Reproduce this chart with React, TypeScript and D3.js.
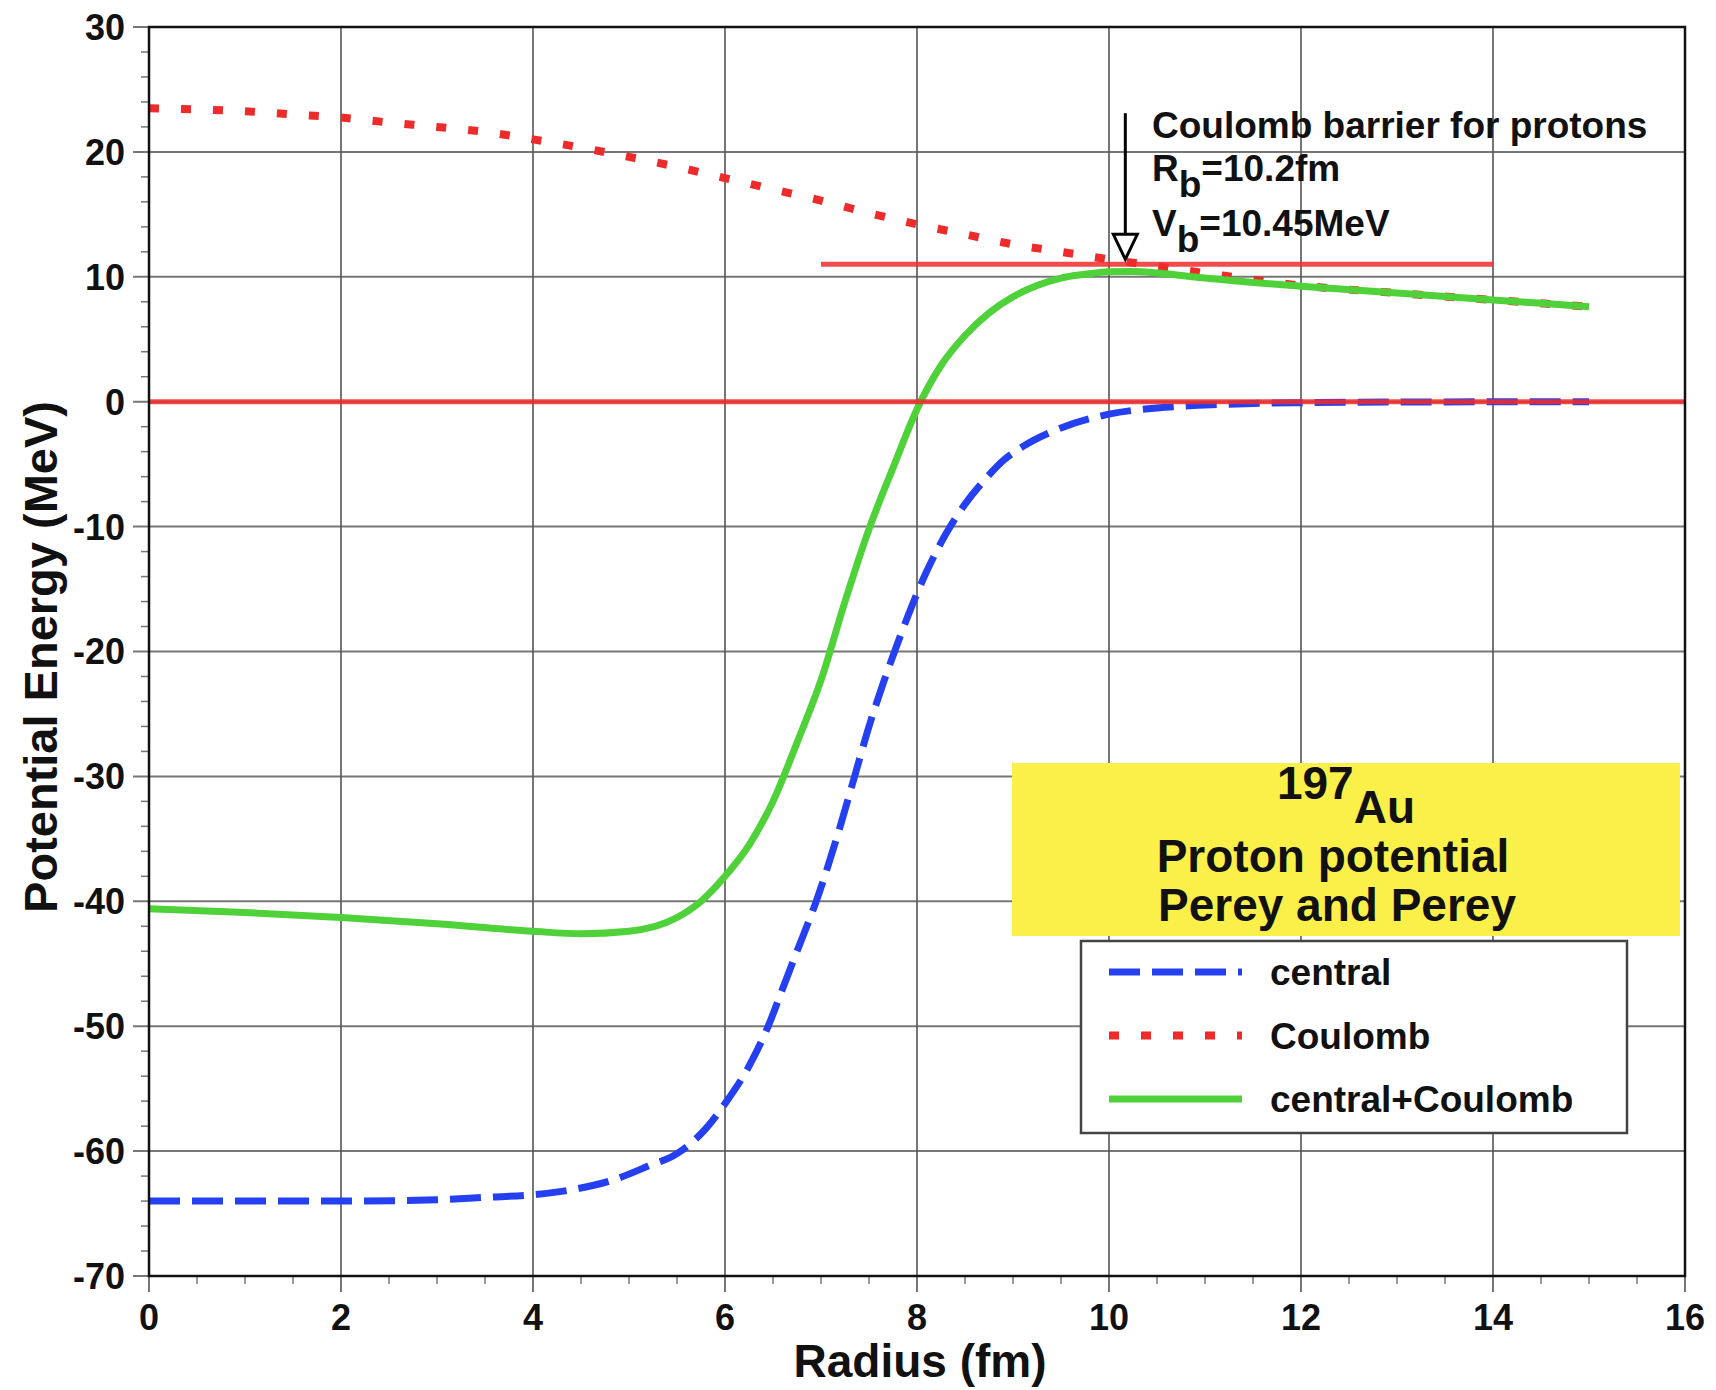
import React, { useEffect } from 'react'
import * as d3 from 'd3'

// radius (fm) / potential (MeV)
const centralR = [0, 1, 2, 3, 3.5, 4, 4.4, 4.8, 5.2, 5.5, 5.8, 6.0, 6.25, 6.45, 6.6, 6.75, 6.95, 7.2, 7.35, 7.5, 7.65, 7.8, 7.95, 8.1, 8.3, 8.5, 8.7, 8.9, 9.1, 9.5, 10, 10.5, 11, 11.5, 12, 13, 14, 15]
const centralV = [-64, -64, -64, -63.9, -63.7, -63.5, -63.1, -62.4, -61.2, -60.2, -58.2, -56.2, -53.2, -50, -47, -44, -40, -34, -30, -26, -22.5, -19.3, -16.3, -13.6, -10.6, -8.2, -6.3, -4.7, -3.6, -2.1, -1.0, -0.5, -0.27, -0.14, -0.08, -0.03, -0.01, 0]

const coulombR = [0, 0.5, 1, 1.5, 2, 2.5, 3, 3.5, 4, 4.5, 5, 5.5, 6, 6.5, 7, 7.5, 8, 8.5, 9, 9.5, 10, 10.5, 11, 12, 13, 14, 15]
const coulombV = [23.5, 23.4, 23.25, 23.0, 22.75, 22.35, 22.0, 21.6, 21.0, 20.35, 19.6, 18.8, 17.9, 17.0, 16.1, 15.1, 14.2, 13.4, 12.6, 12.0, 11.4, 10.85, 10.3, 9.3, 8.7, 8.15, 7.6]

const totalR = [0, 1, 2, 3, 4, 4.5, 5, 5.5, 5.75, 6, 6.25, 6.5, 6.75, 7, 7.25, 7.5, 7.75, 8, 8.25, 8.5, 8.75, 9, 9.25, 9.5, 9.75, 10, 10.25, 10.5, 11, 11.5, 12, 13, 14, 15]
const totalV = [-40.6, -40.9, -41.3, -41.8, -42.4, -42.6, -42.4, -41.3, -40, -38, -35.5, -32, -27.3, -22.3, -16, -10.2, -5.3, -0.6, 2.9, 5.3, 7.1, 8.4, 9.3, 9.9, 10.2, 10.4, 10.42, 10.3, 9.9, 9.55, 9.25, 8.7, 8.15, 7.6]

const barrierR = [7, 14]
const barrierV = 11.0
const zeroR = [0, 16]
const zeroV = 0

const arrowR = 10.17
const arrowTop = 23.1
const arrowTip = 11.4

const legendLabels = ['central', 'Coulomb', 'central+Coulomb']

const BLUE = '#2540f0'
const RED = '#ee2b2b'
const GREEN = '#4fd13a'
const YELLOW = '#fbf04a'
const FONT = '"Liberation Sans", Arial, Helvetica, sans-serif'

const W = 1716
const H = 1390

const App = () => {
    useEffect(() => {
        document.body.style.margin = '0'
    }, [])

    const x = d3.scaleLinear().domain([0, 16]).range([149, 1685])
    const y = d3.scaleLinear().domain([-70, 30]).range([1276, 27])

    const line = d3.line<[number, number]>()
        .x(d => x(d[0]))
        .y(d => y(d[1]))
        .curve(d3.curveMonotoneX)

    const zip = (rs: number[], vs: number[]) => rs.map((r, i) => [r, vs[i]] as [number, number])

    const majorX = x.ticks(8)
    const minorX = x.ticks(32).filter(t => !majorX.includes(t))
    const majorY = y.ticks(10)
    const minorY = y.ticks(50).filter(t => !majorY.includes(t))

    const [x0, x1] = x.range()
    const [y0, y1] = y.range()

    const legendStyles = [
        { color: BLUE, dash: '31 12', width: 7 },
        { color: RED, dash: '10 22', width: 8 },
        { color: GREEN, dash: null, width: 7 },
    ]

    const ax = x(arrowR)
    const tipY = y(arrowTip)

    return (
        <svg width={W} height={H} style={{ display: 'block', background: '#fff' }} fontFamily={FONT} fontWeight="bold">
            {/* grid */}
            <g stroke="#555" strokeOpacity={0.8} strokeWidth={2}>
                {majorX.map(t => <line key={'gx' + t} x1={x(t)} x2={x(t)} y1={y1} y2={y0 + 16} />)}
                {majorY.map(t => <line key={'gy' + t} x1={x0 - 16} x2={x1} y1={y(t)} y2={y(t)} />)}
            </g>
            <g stroke="#777" strokeWidth={1.5}>
                {minorX.map(t => <line key={'mx' + t} x1={x(t)} x2={x(t)} y1={y0} y2={y0 + 8} />)}
                {minorY.map(t => <line key={'my' + t} x1={x0 - 8} x2={x0} y1={y(t)} y2={y(t)} />)}
            </g>

            {/* curves */}
            <path d={line(zip(coulombR, coulombV)) || ''} fill="none" stroke={RED} strokeWidth={8} strokeDasharray="10 22" />
            <path d={line(zip(centralR, centralV)) || ''} fill="none" stroke={BLUE} strokeWidth={7} strokeDasharray="31 12" />
            <path d={line(zip(totalR, totalV)) || ''} fill="none" stroke={GREEN} strokeWidth={7} />

            {/* reference lines */}
            <line x1={x(zeroR[0])} x2={x(zeroR[1])} y1={y(zeroV)} y2={y(zeroV)} stroke={RED} strokeOpacity={0.85} strokeWidth={5} />
            <line x1={x(barrierR[0])} x2={x(barrierR[1])} y1={y(barrierV)} y2={y(barrierV)} stroke={RED} strokeOpacity={0.85} strokeWidth={5} />

            {/* frame */}
            <rect x={x0} y={y1} width={x1 - x0} height={y0 - y1} fill="none" stroke="#111" strokeWidth={2.5} />

            {/* tick labels */}
            <g fontSize={36} fill="#111">
                {majorX.map(t => (
                    <text key={'lx' + t} x={x(t)} y={y0 + 54} textAnchor="middle">{t}</text>
                ))}
                {majorY.map(t => (
                    <text key={'ly' + t} x={x0 - 24} y={y(t)} dy="0.36em" textAnchor="end">{t}</text>
                ))}
            </g>

            {/* axis titles */}
            <text x={920} y={1377} fontSize={46} textAnchor="middle" fill="#111">Radius (fm)</text>
            <text transform="translate(57,657) rotate(-90)" fontSize={47} textAnchor="middle" fill="#111">Potential Energy (MeV)</text>

            {/* barrier arrow */}
            <line x1={ax} x2={ax} y1={y(arrowTop)} y2={tipY - 24} stroke="#000" strokeWidth={3} />
            <path d={`M${ax - 12},${tipY - 25} L${ax + 12},${tipY - 25} L${ax},${tipY} Z`} fill="#fff" stroke="#000" strokeWidth={3} />
            <g fontSize={37} fill="#111">
                <text x={1152} y={138}>Coulomb barrier for protons</text>
                <text x={1152} y={181}>R<tspan dy={16}>b</tspan><tspan dy={-16}>=10.2fm</tspan></text>
                <text x={1152} y={236}>V<tspan dy={16}>b</tspan><tspan dy={-16}>=10.45MeV</tspan></text>
            </g>

            {/* title box */}
            <rect x={1012} y={763} width={668} height={173} fill={YELLOW} />
            <g fontSize={46} fill="#111" textAnchor="middle">
                <text x={1346} y={799}><tspan>197</tspan><tspan dy={24}>Au</tspan></text>
                <text x={1333} y={872}>Proton potential</text>
                <text x={1337} y={921}>Perey and Perey</text>
            </g>

            {/* legend */}
            <rect x={1081} y={941} width={546} height={192} fill="#fff" stroke="#444" strokeWidth={2.5} />
            {legendLabels.map((label, i) => {
                const ly = 972 + i * 63.5
                const s = legendStyles[i]
                return (
                    <g key={label}>
                        <line x1={1109} x2={1242} y1={ly} y2={ly} stroke={s.color} strokeWidth={s.width} strokeDasharray={s.dash || undefined} />
                        <text x={1270} y={ly} dy="0.36em" fontSize={37} fill="#111">{label}</text>
                    </g>
                )
            })}
        </svg>
    )
}

export default App
